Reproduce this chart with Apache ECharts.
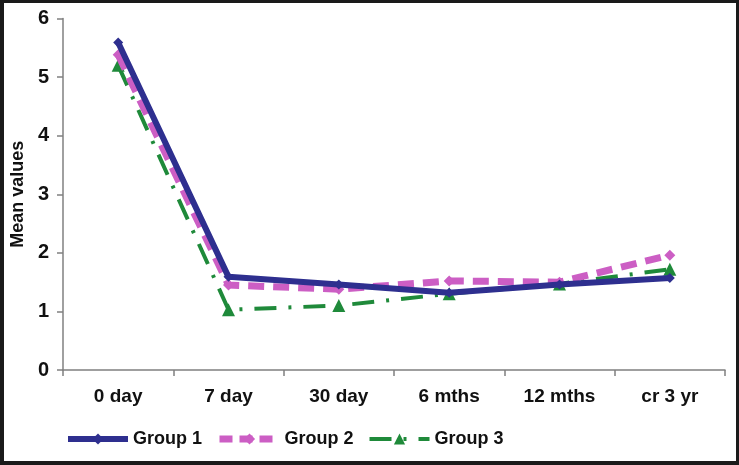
<!DOCTYPE html>
<html><head><meta charset="utf-8">
<script src="https://cdn.jsdelivr.net/npm/echarts@6/dist/echarts.min.js"></script>
<style>
html,body{margin:0;padding:0;background:#fff;}
#frame{width:739px;height:465px;box-sizing:border-box;border:4px solid #1a1a1a;border-top-width:3px;border-right-width:3px;position:relative;overflow:hidden;}
#c{position:absolute;left:-4px;top:-3px;width:739px;height:465px;}
</style></head>
<body><div id="frame"><div id="c"></div></div>
<script>
var categories = ['0 day','7 day','30 day','6 mths','12 mths','cr 3 yr'];
var group1 = [5.59, 1.59, 1.46, 1.32, 1.46, 1.57];
var group2 = [5.38, 1.45, 1.38, 1.52, 1.50, 1.96];
var group3 = [5.20, 1.03, 1.10, 1.30, 1.47, 1.72];
var yTicks = [0,1,2,3,4,5,6];

var font = '"Liberation Sans", Arial, sans-serif';
var c1 = '#2e2f8f', c2 = '#cc5ec4', c3 = '#1f8a3a';
var chart = echarts.init(document.getElementById('c'), null, {renderer:'canvas'});
chart.setOption({
  animation:false,
  grid:{left:63, right:14, top:18.5, bottom:95, containLabel:false, outerBoundsMode:'none'},
  legend:{
    bottom:12, left:60, itemGap:14, itemWidth:60, itemHeight:14,
    textStyle:{fontFamily:font, fontWeight:'bold', fontSize:18, color:'#111'},
    data:[
      {name:'Group 1', lineStyle:{width:6, color:c1}},
      {name:'Group 2', lineStyle:{width:7, color:c2, type:[13,7]}},
      {name:'Group 3', lineStyle:{width:4, color:c3, type:[22,12,3,12]}}
    ]
  },
  xAxis:{
    type:'category', data:categories, boundaryGap:true,
    axisLine:{lineStyle:{color:'#808080', width:1.5}},
    axisTick:{show:true, alignWithLabel:false, length:6, lineStyle:{color:'#808080', width:1.5}},
    axisLabel:{fontFamily:font, fontWeight:'bold', fontSize:19, color:'#111', margin:17}
  },
  yAxis:{
    type:'value', min:0, max:6, interval:1,
    name:'Mean values', nameLocation:'middle', nameGap:36, nameRotate:90, nameMoveOverlap:false,
    nameTextStyle:{fontFamily:font, fontWeight:'bold', fontSize:18, color:'#111'},
    axisLine:{show:true, lineStyle:{color:'#808080', width:1.5}},
    axisTick:{show:true, length:6, lineStyle:{color:'#808080', width:1.5}},
    splitLine:{show:false},
    axisLabel:{fontFamily:font, fontWeight:'bold', fontSize:20, color:'#111', margin:14,
      formatter:function(v){return yTicks.indexOf(v)>=0?String(v):'';}}
  },
  series:[
    {name:'Group 1', type:'line', data:group1, symbol:'diamond', symbolSize:10,
      lineStyle:{color:c1, width:6}, itemStyle:{color:c1}, z:3},
    {name:'Group 2', type:'line', data:group2, symbol:'diamond', symbolSize:11,
      lineStyle:{color:c2, width:7, type:[16,9]}, itemStyle:{color:c2}, z:2},
    {name:'Group 3', type:'line', data:group3, symbol:'triangle', symbolSize:13,
      lineStyle:{color:c3, width:4, type:[22,12,3,12]}, itemStyle:{color:c3}, z:1}
  ]
});
</script></body></html>
